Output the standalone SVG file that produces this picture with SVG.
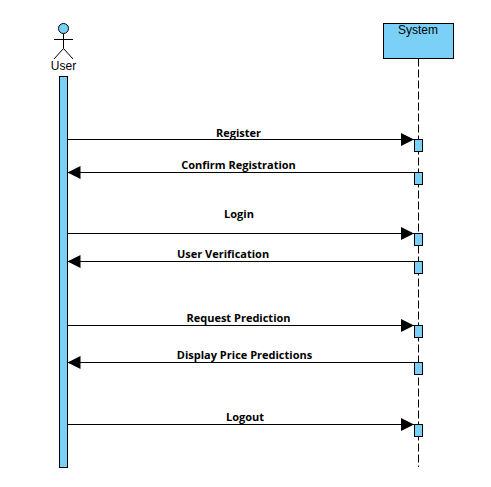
<svg xmlns="http://www.w3.org/2000/svg" width="491" height="487" viewBox="0 0 491 487">
<style>
.fill{fill:#7ad0f7;stroke:#000;stroke-width:1}
.ln{fill:none;stroke:#000;stroke-width:1}
.msg{fill:none;stroke:#000;stroke-width:1}
.lbl{font-family:"Open Sans","Noto Sans",sans-serif;font-size:11px;font-weight:700;fill:#000;text-anchor:middle}
.nm{font-family:"Liberation Sans",Arial,sans-serif;font-size:12px;fill:#000;text-anchor:middle}
</style>
<defs>
<marker id="ah" markerUnits="userSpaceOnUse" markerWidth="13" markerHeight="13" refX="13" refY="6.5" orient="auto"><path d="M0 0L13 6.5L0 13Z" fill="#000"/></marker>
</defs>
<rect width="491" height="487" fill="#fff"/>
<g id="user">
<circle class="fill" cx="63.5" cy="28.5" r="5"/>
<path class="ln" d="M63.5 33.5V48.5M54 39.5H73M54 59L63.5 48.5L73 59"/>
<text class="nm" x="63.5" y="70">User</text>
<rect id="user-activation" class="fill" x="59.5" y="76.5" width="8" height="391"/>
</g>
<g id="system">
<rect class="fill" x="383.5" y="23.5" width="70" height="35"/>
<text class="nm" x="418" y="34">System</text>
<path class="ln" stroke-dasharray="8 3" d="M418.5 58.5V467"/>
<rect class="fill" x="414.5" y="139.5" width="8" height="12"/>
<rect class="fill" x="414.5" y="172.5" width="8" height="12"/>
<rect class="fill" x="414.5" y="233.5" width="8" height="12"/>
<rect class="fill" x="414.5" y="261.5" width="8" height="12"/>
<rect class="fill" x="414.5" y="325.5" width="8" height="12"/>
<rect class="fill" x="414.5" y="362.5" width="8" height="12"/>
<rect class="fill" x="414.5" y="424.5" width="8" height="12"/>
</g>
<g id="connectors">
<path class="msg" marker-end="url(#ah)" d="M67.5 139.5H414"/>
<path class="msg" marker-end="url(#ah)" d="M414.5 172.5H67.5"/>
<path class="msg" marker-end="url(#ah)" d="M67.5 233.5H414"/>
<path class="msg" marker-end="url(#ah)" d="M414.5 261.5H67.5"/>
<path class="msg" marker-end="url(#ah)" d="M67.5 325.5H414"/>
<path class="msg" marker-end="url(#ah)" d="M414.5 362.5H67.5"/>
<path class="msg" marker-end="url(#ah)" d="M67.5 424.5H414"/>
</g>
<g id="labels">
<text class="lbl" x="238.5" y="137">Register</text>
<text class="lbl" x="238.5" y="169">Confirm Registration</text>
<text class="lbl" x="239" y="218">Login</text>
<text class="lbl" x="223" y="258">User Verification</text>
<text class="lbl" x="238.5" y="322">Request Prediction</text>
<text class="lbl" x="244.5" y="359">Display Price Predictions</text>
<text class="lbl" x="245" y="421">Logout</text>
</g>
</svg>
